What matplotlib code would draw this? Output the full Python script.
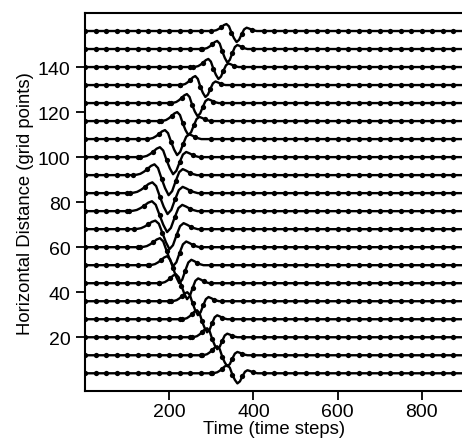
import numpy as np
import matplotlib
matplotlib.use("Agg")
import matplotlib.pyplot as plt

plt.rcParams['font.family'] = ['Liberation Sans', 'DejaVu Sans']

# receiver positions along the line (grid points)
offsets = [4, 12, 20, 28, 36, 44, 52, 60, 68, 76,
           84, 92, 100, 108, 116, 124, 132, 140, 148, 156]

# time step of the leading positive peak on each trace
peak_time = [338, 314, 290, 266, 243, 216, 195, 178, 167, 159,
             160, 165, 178, 190, 219, 242, 262, 293, 314, 336]

# lobe heights, in grid points of vertical offset
peak_amp = [3.6, 4.0, 4.0, 4.0, 4.0, 4.0, 4.0, 4.0, 3.8, 4.4,
            4.8, 4.8, 4.4, 4.0, 4.0, 4.0, 4.0, 3.6, 3.6, 3.1]
trough_amp = [4.5, 4.9, 5.3, 5.8, 6.2, 7.1, 8.0, 8.4, 8.9, 9.3,
              9.3, 8.9, 7.6, 7.1, 6.2, 5.8, 5.3, 5.3, 6.0, 4.9]

# pulse width relative to the traces at the far ends
pulse_stretch = [1.0, 1.0, 1.0, 1.0, 1.05, 1.1, 1.2, 1.3, 1.4, 1.5,
                 1.5, 1.4, 1.3, 1.2, 1.1, 1.05, 1.0, 1.0, 1.0, 1.0]

# wavelet: positive lead lobe and the trough + overshoot that follows
pulse_lag = [-36, -30, -24, -18, -12, -6, 0, 6, 12, 18,
             24, 30, 36, 42, 48, 54, 60, 66, 72]
lead_shape = [0, 0.04, 0.12, 0.31, 0.56, 0.85, 1.0, 0.75, 0.15, 0,
              0, 0, 0, 0, 0, 0, 0, 0, 0]
tail_shape = [0, 0, 0, 0, 0, 0, 0, -0.05, -0.25, -0.65,
              -1.0, -0.8, -0.3, 0.15, 0.3, 0.22, 0.12, 0.05, 0]

x_ticks = [200, 400, 600, 800]
y_ticks = [20, 40, 60, 80, 100, 120, 140]
t_end = 900
sample_step = 25


def build_trace(y0, tp, a_pk, a_tr, s):
    lag = np.array(pulse_lag) * s
    t_pulse = tp + lag
    v_pulse = y0 + a_pk * np.array(lead_shape) + a_tr * np.array(tail_shape)

    t_base = np.arange(0, t_end + 1, sample_step)
    keep = (t_base < t_pulse[0]) | (t_base > t_pulse[-1])
    t_base = t_base[keep]

    t_all = np.concatenate([t_base, t_pulse])
    v_all = np.concatenate([np.full(len(t_base), float(y0)), v_pulse])
    order = np.argsort(t_all)

    # dots on the flat part plus every fourth pulse sample
    t_dot = np.concatenate([t_base, t_pulse[::4]])
    v_dot = np.concatenate([np.full(len(t_base), float(y0)), v_pulse[::4]])
    return t_all[order], v_all[order], t_dot, v_dot


fig = plt.figure(figsize=(4.62, 4.39), dpi=100)
ax = fig.add_axes([0.184, 0.1064, 0.820, 0.8617])

for i in range(len(offsets)):
    t, v, td, vd = build_trace(offsets[i], peak_time[i], peak_amp[i],
                               trough_amp[i], pulse_stretch[i])
    ax.plot(t, v, color='black', lw=1.7, solid_joinstyle='round')
    ax.plot(td, vd, 'o', color='black', ms=3.8, mew=0)

ax.set_xlim(0, t_end)
ax.set_ylim(-4, 164)
ax.set_xticks(x_ticks)
ax.set_yticks(y_ticks)
ax.tick_params(direction='out', length=6.5, width=1.3, labelsize=14,
               top=False, right=False)
ax.tick_params(axis='x', pad=2)
ax.tick_params(axis='y', pad=4)
for side in ['left', 'bottom', 'top', 'right']:
    ax.spines[side].set_linewidth(1.5)

ax.set_xlabel('Time (time steps)', fontsize=13.3, labelpad=0)
ax.set_ylabel('Horizontal Distance (grid points)', fontsize=13.3, labelpad=3)

fig.savefig('out.png', dpi=100)
